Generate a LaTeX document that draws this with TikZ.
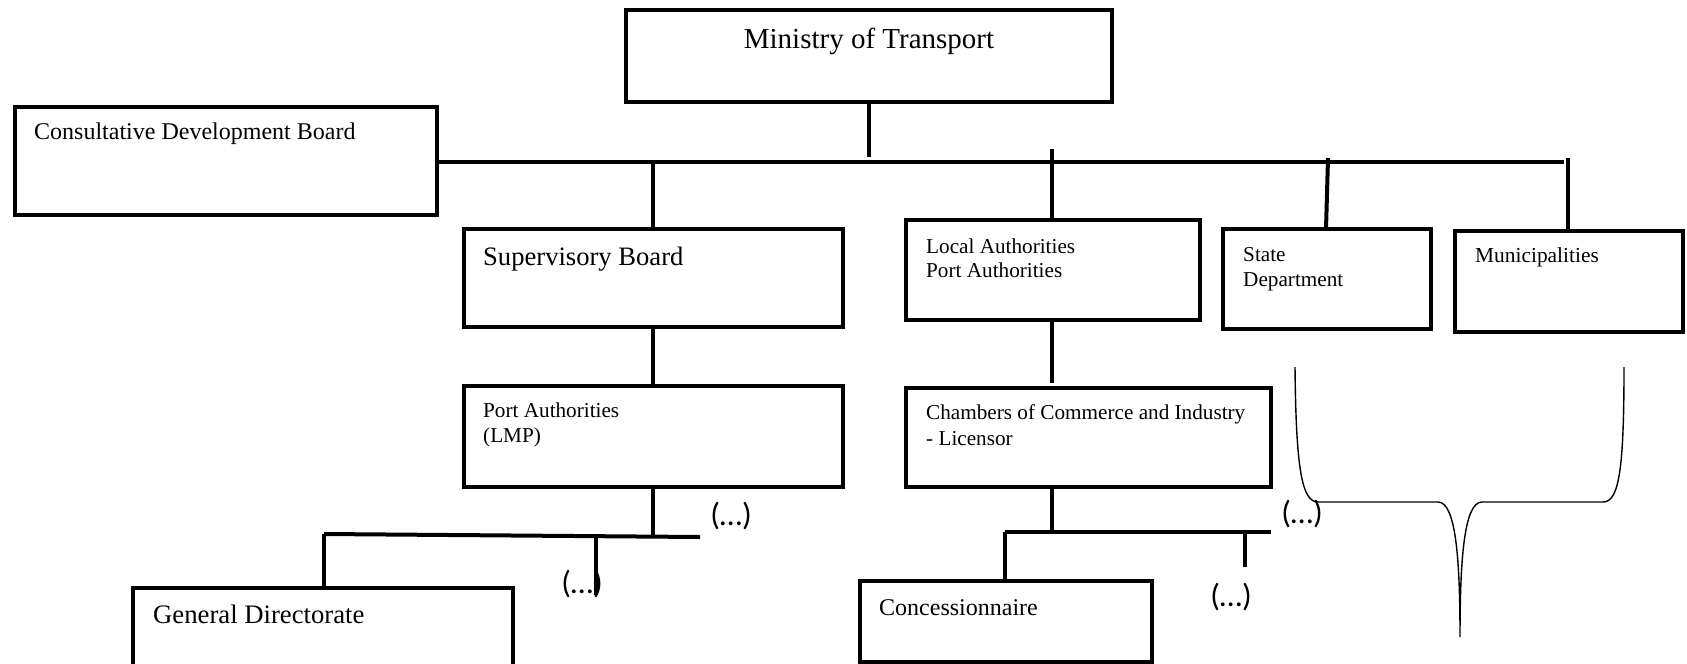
\documentclass[tikz,border=0pt]{standalone}
\usepackage{fontspec}
\setmainfont{Liberation Serif}
\newfontfamily\dotsfont{Carlito}
\begin{document}
\begin{tikzpicture}[x=1pt,y=-1pt,
  box/.style={draw, line width=4pt, anchor=north west, inner sep=0pt, outer sep=0pt},
  wire/.style={line width=4pt},
  txt/.style={anchor=base west, inner sep=0pt},
  more/.style={inner sep=0pt, font=\dotsfont\fontsize{32}{36}\selectfont},
  bracket/.style={line width=1.4pt}]
\useasboundingbox (0,0) rectangle (1687,664);
\clip (0,0) rectangle (1687,664);

% boxes
\node[box, minimum width=486, minimum height=92] (min) at (626,10) {};
\node[box, minimum width=422, minimum height=108] (cdb) at (15,107) {};
\node[box, minimum width=379, minimum height=98] (sup) at (464,229) {};
\node[box, minimum width=379, minimum height=101] (lmp) at (464,386) {};
\node[box, minimum width=380, minimum height=120] (gd) at (133,588) {};
\node[box, minimum width=294, minimum height=100] (loc) at (906,220) {};
\node[box, minimum width=365, minimum height=99] (cci) at (906,388) {};
\node[box, minimum width=292, minimum height=81] (con) at (860,581) {};
\node[box, minimum width=208, minimum height=100] (sta) at (1223,229) {};
\node[box, minimum width=228, minimum height=101] (mun) at (1455,231) {};

% texts
\node[anchor=base, inner sep=0pt, font=\fontsize{29}{34}\selectfont] (tmin) at (869,48) {Ministry of Transport};
\node[txt, font=\fontsize{24}{28}\selectfont] (tcdb) at (34,139) {Consultative Development Board};
\node[txt, font=\fontsize{26.6}{31}\selectfont] (tsup) at (483,265) {Supervisory Board};
\node[txt, font=\fontsize{21.2}{25}\selectfont] (tlmp) at (483,417) {\vtop{\hbox{Port Authorities}\hbox{(LMP)}}};
\node[txt, font=\fontsize{26.7}{31}\selectfont] (tgd) at (153,623) {General Directorate};
\node[txt, font=\fontsize{21.2}{24}\selectfont] (tloc) at (926,253) {\vtop{\hbox{Local Authorities}\hbox{Port Authorities}}};
\node[txt, font=\fontsize{21.2}{26}\selectfont] (tcci) at (926,419) {\vtop{\hbox{Chambers of Commerce and Industry}\hbox{- Licensor}}};
\node[txt, font=\fontsize{24}{28}\selectfont] (tcon) at (879,615) {Concessionnaire};
\node[txt, font=\fontsize{21.2}{25}\selectfont] (tsta) at (1243,261) {\vtop{\hbox{State}\hbox{Department}}};
\node[txt, font=\fontsize{21.4}{25}\selectfont] (tmun) at (1475,262) {Municipalities};

% (...) markers
\node[more] (m1) at (731,516) {(…)};
\node[more] (m2) at (582,584) {(…)};
\node[more] (m3) at (1231,597) {(…)};
\node[more] (m4) at (1302,514) {(…)};

% free ends of the connectors
\coordinate (minend) at (869,157);
\coordinate (busend) at (1564,162);
\coordinate (loctop) at (1052,149);
\coordinate (statop) at (1328,158);
\coordinate (muntop) at (1568,158);
\coordinate (supj) at (653,162);
\coordinate (lmpj) at (653,536);
\coordinate (lbusl) at (324,534);
\coordinate (lbusr) at (700,537);
\coordinate (ldrop) at (596,537);
\coordinate (ldropend) at (596,595);
\coordinate (locend) at (1052,383);
\coordinate (ccij) at (1052,532);
\coordinate (cbusl) at (1005,532);
\coordinate (cbusr) at (1271,532);
\coordinate (cdrop) at (1245,532);
\coordinate (cdropend) at (1245,567);

% top level
\draw[wire] (minend |- min.south) -- (minend);
\draw[wire] (cdb.east |- busend) -- (busend);
\draw[wire] (supj) -- (supj |- sup.north);
\draw[wire] (loctop) -- (loctop |- loc.north);
\draw[wire] (statop) -- (1326,0 |- sta.north);
\draw[wire] (muntop) -- (muntop |- mun.north);

% left branch
\draw[wire] (supj |- sup.south) -- (supj |- lmp.north);
\draw[wire] (lmpj |- lmp.south) -- (lmpj);
\draw[wire] (lbusl) -- (lbusr);
\draw[wire] (lbusl) -- (lbusl |- gd.north);
\draw[wire] (ldrop) -- (ldropend);

% middle branch
\draw[wire] (locend |- loc.south) -- (locend);
\draw[wire] (ccij |- cci.south) -- (ccij);
\draw[wire] (cbusl) -- (cbusr);
\draw[wire] (cbusl) -- (cbusl |- con.north);
\draw[wire] (cdrop) -- (cdropend);

% brace under State Department and Municipalities
\draw[bracket] (1295,367) .. controls (1296,470) and (1302,502) .. (1318,502)
  -- (1438,502) .. controls (1456,502) and (1460,560) .. (1460,637)
  .. controls (1460,560) and (1464,502) .. (1482,502)
  -- (1603,502) .. controls (1619,502) and (1624,470) .. (1624,367);
\end{tikzpicture}
\end{document}
